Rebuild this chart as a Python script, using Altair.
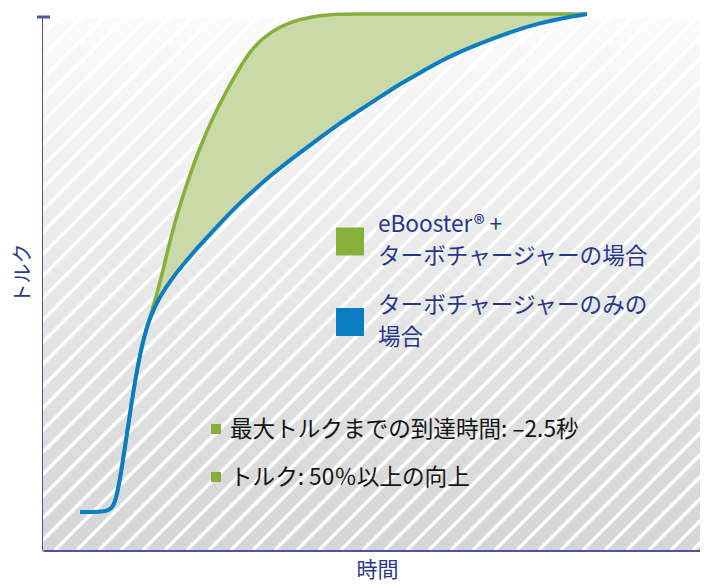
import altair as alt
import pandas as pd

# ---- data (arbitrary units: time / torque) ----
time = [37, 57, 64, 69, 72, 75, 79, 84, 89, 94, 100, 107, 117, 130, 144, 157, 170,
        184, 197, 210, 227, 247, 270, 297, 317, 337, 360, 377, 397, 430, 467, 497, 520, 544]
torque_turbo = [38, 38, 39, 42, 48, 60, 83, 117, 150, 180, 210, 233, 254, 273, 290, 305, 319,
                334, 347, 359, 374, 390, 407, 427, 440, 453, 468, 477, 489, 504, 518, 527, 532, 536]
torque_ebooster = [38, 38, 39, 42, 48, 60, 83, 117, 150, 180, 210, 233, 266, 323, 367, 403, 433,
                   460, 483, 503, 518, 528, 534, 536, 536, 536, 536, 536, 536, 536, 536, 536, 536, 536]

x_title = "時間"
y_title = "トルク"
legend_ebooster = ["eBooster® +", "ターボチャージャーの場合"]
legend_turbo = ["ターボチャージャーのみの", "場合"]
bullet_1 = "最大トルクまでの到達時間: –2.5秒"
bullet_2 = "トルク: 50％以上の向上"

FONT = "Noto Sans CJK JP"
AXIS_COLOR = "#4a54a0"
TITLE_COLOR = "#2b3a8c"
GREEN = "#86b03a"
BLUE = "#0b7dc3"
FILL = "#c9d9a7"
W, H = 657, 533
FS = 22.6

df = pd.DataFrame({"t": time, "turbo": torque_turbo, "eboost": torque_ebooster})

xs = alt.Scale(domain=[0, W], nice=False, zero=False)
ys = alt.Scale(domain=[0, H], nice=False, zero=False)

x_axis = alt.Axis(title=x_title, domainColor=AXIS_COLOR, domainWidth=3, ticks=False,
                  labels=False, grid=False, titleFont=FONT, titleFontSize=21,
                  titleFontWeight="normal", titleColor=TITLE_COLOR, titlePadding=9,
                  titleX=334)
y_axis = alt.Axis(title=y_title, domainColor=AXIS_COLOR, domainWidth=3, ticks=False,
                  labels=False, grid=False, titleFont=FONT, titleFontSize=20,
                  titleFontWeight="normal", titleColor=TITLE_COLOR, titlePadding=10,
                  titleY=256)

one = alt.Data(values=[{}])

bg = alt.Chart(one).mark_rect(
    color=alt.Gradient(
        gradient="linear",
        stops=[alt.GradientStop(color="#fbfbfb", offset=0),
               alt.GradientStop(color="#d4d5d6", offset=1)],
        x1=0, x2=0, y1=0, y2=1,
    )
).encode(x=alt.value(0), x2=alt.value(W), y=alt.value(0), y2=alt.value(H))

stripes = alt.Chart(alt.sequence(start=-560, stop=700, step=22, as_="c")).transform_calculate(
    c2=f"datum.c + {H}", y0="0", y1=f"{H}"
).mark_rule(color="white", strokeWidth=3.4, clip=True).encode(
    x=alt.X("c:Q", scale=xs, axis=x_axis),
    x2="c2:Q",
    y=alt.Y("y0:Q", scale=ys, axis=y_axis),
    y2="y1:Q",
)

area = alt.Chart(df).mark_area(color=FILL, opacity=1, interpolate="basis").encode(
    x=alt.X("t:Q", scale=xs, axis=x_axis),
    y=alt.Y("eboost:Q", scale=ys, axis=y_axis),
    y2="turbo:Q",
)
line_green = alt.Chart(df).mark_line(color=GREEN, strokeWidth=3.5, interpolate="basis").encode(
    x=alt.X("t:Q", scale=xs, axis=x_axis),
    y=alt.Y("eboost:Q", scale=ys, axis=y_axis),
)
line_blue = alt.Chart(df).mark_line(color=BLUE, strokeWidth=4, interpolate="basis").encode(
    x=alt.X("t:Q", scale=xs, axis=x_axis),
    y=alt.Y("turbo:Q", scale=ys, axis=y_axis),
)

cap = alt.Chart(one).mark_rule(color=AXIS_COLOR, strokeWidth=3).encode(
    x=alt.value(-6), x2=alt.value(7), y=alt.value(0)
)

sq_green = alt.Chart(one).mark_square(size=784, color=GREEN, opacity=1, strokeWidth=0).encode(
    x=alt.value(307), y=alt.value(224.5))
sq_blue = alt.Chart(one).mark_square(size=784, color=BLUE, opacity=1, strokeWidth=0).encode(
    x=alt.value(307), y=alt.value(305))

txt_green = alt.Chart(one).mark_text(
    text=legend_ebooster, align="left", baseline="alphabetic", font=FONT, fontSize=FS,
    lineHeight=32, color="#26378a").encode(x=alt.value(335), y=alt.value(215))
txt_blue = alt.Chart(one).mark_text(
    text=legend_turbo, align="left", baseline="alphabetic", font=FONT, fontSize=FS,
    lineHeight=32, color="#26378a").encode(x=alt.value(335), y=alt.value(296))

b_sq1 = alt.Chart(one).mark_square(size=100, color=GREEN, opacity=1, strokeWidth=0).encode(
    x=alt.value(173), y=alt.value(412))
b_sq2 = alt.Chart(one).mark_square(size=100, color=GREEN, opacity=1, strokeWidth=0).encode(
    x=alt.value(173), y=alt.value(460))
b_t1 = alt.Chart(one).mark_text(
    text=bullet_1, align="left", baseline="alphabetic", font=FONT, fontSize=FS,
    color="#151515").encode(x=alt.value(187), y=alt.value(420))
b_t2 = alt.Chart(one).mark_text(
    text=bullet_2, align="left", baseline="alphabetic", font=FONT, fontSize=FS,
    color="#151515").encode(x=alt.value(187), y=alt.value(468))

chart = alt.layer(
    bg, stripes, area, line_green, line_blue, cap,
    sq_green, sq_blue, txt_green, txt_blue, b_sq1, b_sq2, b_t1, b_t2,
).properties(
    width=W, height=H, autosize="none",
    padding={"left": 35, "top": 9, "right": 0, "bottom": 36},
    background="white",
).configure_view(stroke=None)

chart.save("out.html", embed_options={"renderer": "svg", "actions": False})
